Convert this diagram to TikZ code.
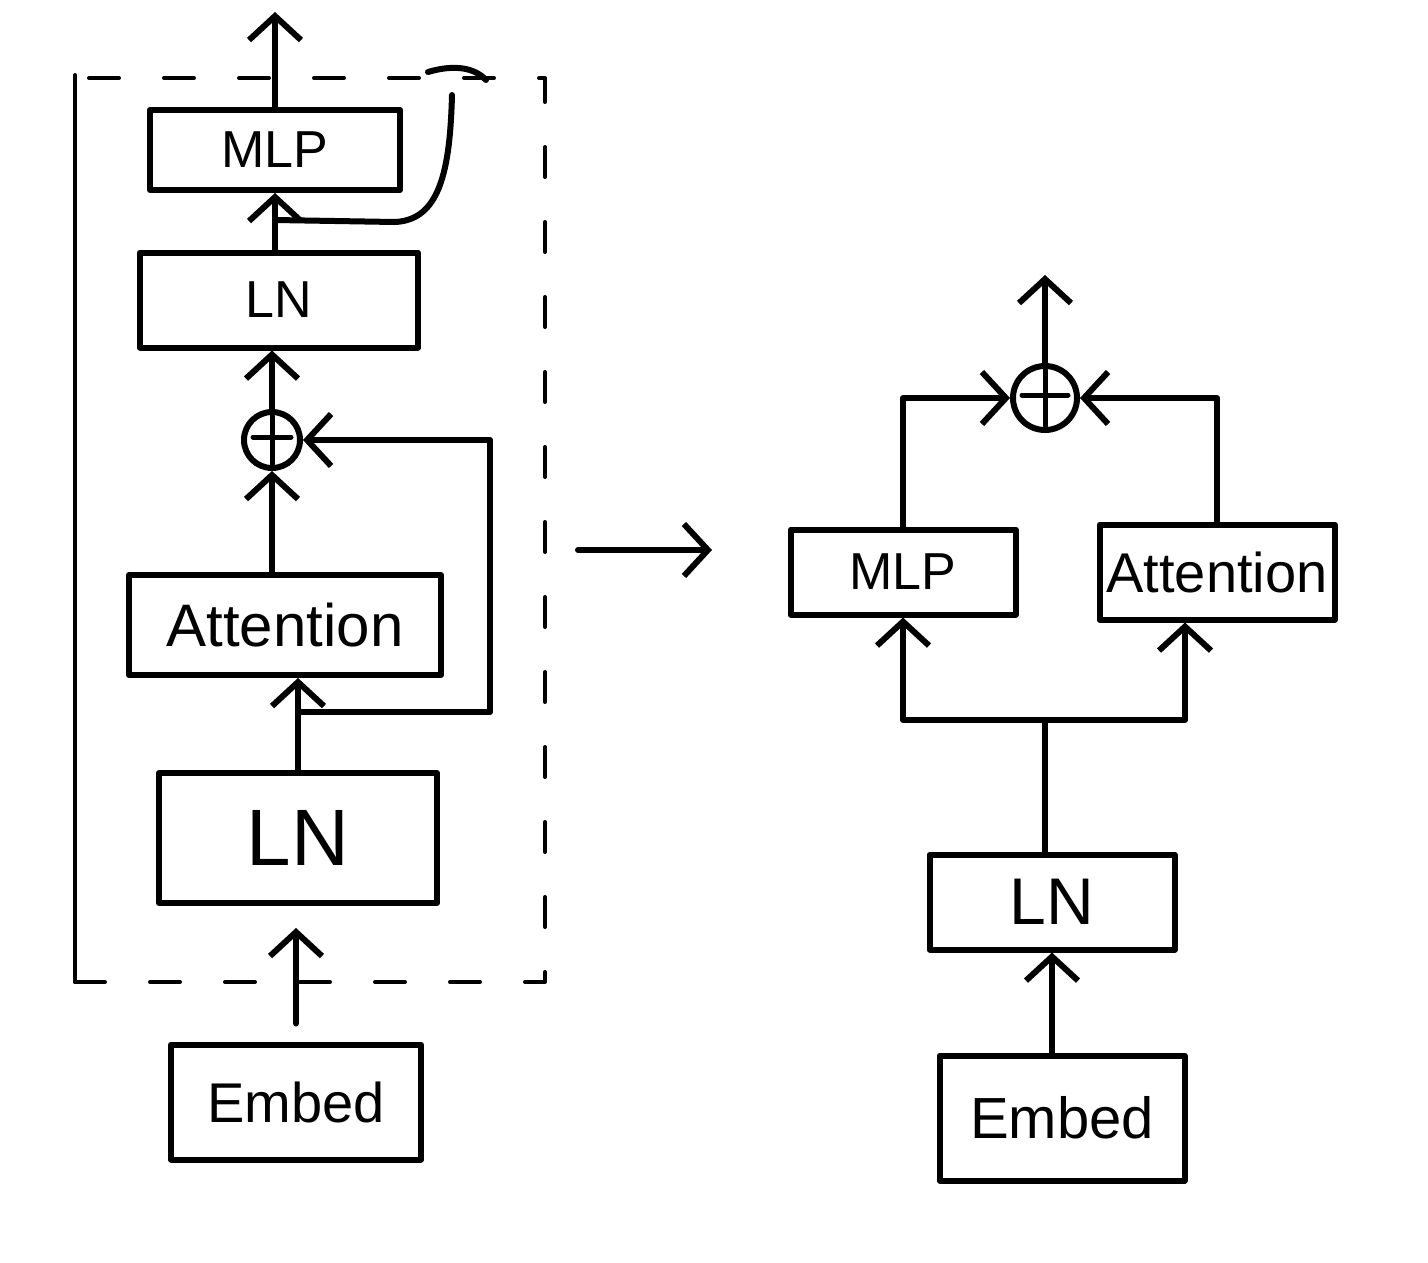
\documentclass[tikz,border=0pt]{standalone}
\usepackage{fontspec}
\setmainfont{Liberation Sans}
\usetikzlibrary{arrows.meta}

\begin{document}
\begin{tikzpicture}[x=1pt, y=-1pt, line width=6pt, line cap=round, line join=round,
  >={Straight Barb[length=24pt, width=52pt]},
  block/.style={draw, inner sep=0pt},
  adder/.style={draw, circle, inner sep=0pt, minimum size=#1,
    path picture={\draw[line width=5pt]
      ([yshift=-4pt]path picture bounding box.north) -- ([yshift=4pt]path picture bounding box.south)
      ([xshift=9pt, yshift=3pt]path picture bounding box.west) -- ([xshift=-9pt, yshift=3pt]path picture bounding box.east);}},
  flow/.style={->},
  frame/.style={line width=4pt}]
\useasboundingbox (0,0) rectangle (1428,1262);
% Transformer block, serial
\draw[frame] (75,75) -- (75,982);
\draw[frame, dash pattern=on 30pt off 45pt] (75,982) -- (545,982) -- (545,78) -- (75,78);
\node[block, minimum width=250, minimum height=80, font=\fontsize{52}{56}\selectfont] (mlpA) at (275,150) {MLP};
\node[block, minimum width=278, minimum height=95, font=\fontsize{52}{56}\selectfont] (lnA) at (279,300) {LN};
\node[adder=56] (addA) at (272,440) {};
\node[block, minimum width=312, minimum height=100, font=\fontsize{60}{64}\selectfont] (attA) at (285,625) {Attention};
\node[block, minimum width=278, minimum height=130, font=\fontsize{80}{84}\selectfont] (lnB) at (298,838) {LN};
\node[block, minimum width=250, minimum height=115, font=\fontsize{56}{60}\selectfont] (embA) at (296,1102) {Embed};
\coordinate (resA) at (298,712);
\coordinate (resB) at (275,220);
\draw[flow, shorten <=18pt, shorten >=22pt] (embA.north) -- (embA.north |- lnB.south);
\draw[flow] (lnB.north) -- (lnB.north |- attA.south);
\draw[flow] (resA) -- ++(192,0) |- (addA.east);
\draw[flow] (attA.north -| addA) -- (addA.south);
\draw[flow] (addA.north) -- (addA.north |- lnA.south);
\draw[flow] (lnA.north -| mlpA) -- (mlpA.south);
\draw[flow] (mlpA.north) -- ++(0,-95);
\draw (resB) -- (395,222) .. controls (440,220) and (450,170) .. (452,95);
\draw (428,72) .. controls (455,64) and (475,68) .. (486,80);
% Arrow between the two
\coordinate (fromA) at (578,550);
\coordinate (toB) at (712,550);
\draw[flow] (fromA) -- (toB);
% Transformer block, parallel
\node[block, minimum width=245, minimum height=125, font=\fontsize{58}{62}\selectfont] (embB) at (1062,1118) {Embed};
\node[block, minimum width=245, minimum height=95, font=\fontsize{66}{70}\selectfont] (lnC) at (1052,902) {LN};
\node[block, minimum width=225, minimum height=85, font=\fontsize{52}{56}\selectfont] (mlpB) at (903,572) {MLP};
\node[block, minimum width=235, minimum height=95, font=\fontsize{56}{60}\selectfont] (attB) at (1217,572) {Attention};
\node[adder=64] (addB) at (1045,398) {};
\coordinate (split) at (1045,720);
\coordinate (outB) at (1045,275);
\draw[flow] (lnC.south |- embB.north) -- (lnC.south);
\draw (lnC.north -| split) -- (split);
\draw[flow] (split) -| (mlpB.south);
\draw[flow] (split) -| ([xshift=-32pt]attB.south);
\draw[flow] (mlpB.north) |- (addB.west);
\draw[flow] (attB.north) |- (addB.east);
\draw[flow] (addB.north) -- (outB);
\end{tikzpicture}
\end{document}
